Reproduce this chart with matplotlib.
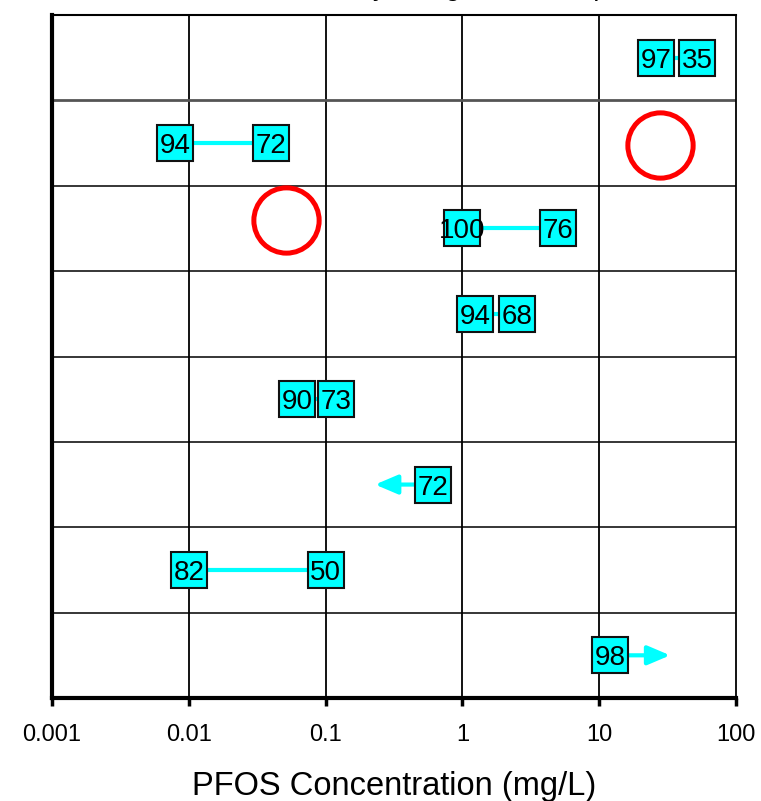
import numpy as np
import matplotlib
matplotlib.use("Agg")
import matplotlib.pyplot as plt

plt.rcParams['font.family'] = ['Liberation Sans', 'DejaVu Sans']

# one row per test, top to bottom
first_conc = [26.0, 0.0079, 1.0, 1.24, 0.062, 0.61, 0.01, 12.0]
first_label = ['97', '94', '100', '94', '90', '72', '82', '98']
second_conc = [52.0, 0.04, 5.0, 2.5, 0.12, None, 0.1, None]
second_label = ['35', '72', '76', '68', '73', None, '50', None]
arrow_to = [None, None, None, None, None, 0.23, None, 33.0]
circle_conc = [27.8, 0.051]
circle_y = [6.48, 5.6]
decades = [0.001, 0.01, 0.1, 1, 10, 100]
decade_labels = ['0.001', '0.01', '0.1', '1', '10', '100']

CYAN = '#00FFFF'
nrows = len(first_conc)

fig = plt.figure(figsize=(7.61, 8.01), dpi=100)
ax = fig.add_axes([52 / 761, 1 - 698 / 801, 684 / 761, 683 / 801])
ax.set_xscale('log')
ax.set_xlim(0.001, 100)
ax.set_ylim(0, nrows)

for d in decades[1:-1]:
    ax.axvline(d, color='black', lw=1.3, zorder=1)
for k in range(1, nrows):
    if k == nrows - 1:
        ax.axhline(k, color='#555555', lw=2, zorder=1)
    else:
        ax.axhline(k, color='black', lw=1.1, zorder=1)

for i in range(nrows):
    y = nrows - 0.5 - i
    if second_conc[i] is not None:
        ax.plot([first_conc[i], second_conc[i]], [y, y], color=CYAN, lw=3, zorder=2,
                solid_capstyle='butt')
    if arrow_to[i] is not None:
        ax.annotate('', xy=(arrow_to[i], y), xytext=(first_conc[i], y),
                    arrowprops=dict(arrowstyle='-|>,head_length=0.4,head_width=0.17',
                                    color=CYAN, lw=3, mutation_scale=34,
                                    shrinkA=0, shrinkB=0),
                    zorder=2)
    pts = [(first_conc[i], first_label[i])]
    if second_label[i] is not None:
        pts.append((second_conc[i], second_label[i]))
    for xv, lab in pts:
        ax.plot(xv, y, marker='s', ms=26.5, mfc=CYAN, mec='#111111', mew=1.5,
                ls='none', zorder=3)
        ax.text(xv, y, lab, ha='center', va='center_baseline', fontsize=20, zorder=4)

ax.plot(circle_conc, circle_y, marker='o', ms=47, mfc='none', mec='#FF0000',
        mew=3.6, ls='none', zorder=5)

ax.set_xticks(decades)
ax.set_xticklabels(decade_labels)
ax.xaxis.set_minor_locator(matplotlib.ticker.NullLocator())
ax.tick_params(axis='x', direction='out', length=6, width=2.5, labelsize=17, pad=13)
ax.set_yticks([])

for side in ['left', 'bottom']:
    ax.spines[side].set_linewidth(3)
ax.spines['top'].set_linewidth(1.5)
ax.spines['right'].set_linewidth(1.3)

ax.set_xlabel('PFOS Concentration (mg/L)', fontsize=23.5, labelpad=18)

# title sits mostly above the canvas, only descenders show
fig.text(213 / 761, 1 + 5 / 801, 'PFOS Toxicity Range Across Species',
         fontsize=20, ha='left', va='baseline')

fig.savefig('out.png', dpi=100)
